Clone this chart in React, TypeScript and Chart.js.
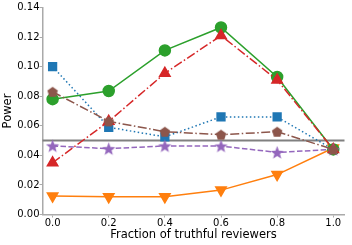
import React, { useEffect, useRef } from "react";
import { Chart, registerables } from "chart.js";

Chart.register(...registerables);

const fractions = [0.0, 0.2, 0.4, 0.6, 0.8, 1.0];
const blueSquares = [0.1, 0.059, 0.0525, 0.066, 0.066, 0.044];
const orangeDown = [0.0125, 0.012, 0.012, 0.0165, 0.027, 0.045];
const greenCircles = [0.078, 0.0835, 0.111, 0.1265, 0.093, 0.044];
const redTriangles = [0.035, 0.063, 0.0955, 0.121, 0.091, 0.044];
const purpleStars = [0.0464, 0.0445, 0.0464, 0.0463, 0.042, 0.044];
const brownPentagons = [0.083, 0.063, 0.056, 0.054, 0.056, 0.044];
const threshold = 0.05;
const yTicks = [0, 0.02, 0.04, 0.06, 0.08, 0.1, 0.12, 0.14];
const xTicks = [0, 0.2, 0.4, 0.6, 0.8, 1.0];

function makeShape(kind: "star" | "pentagon", color: string, size: number) {
  const c = document.createElement("canvas");
  c.width = size;
  c.height = size;
  const ctx = c.getContext("2d")!;
  const cx = size / 2, cy = size / 2;
  const R = size / 2 - 0.5;
  ctx.beginPath();
  if (kind === "star") {
    const r = R * 0.42;
    for (let i = 0; i < 10; i++) {
      const a = -Math.PI / 2 + (i * Math.PI) / 5;
      const rr = i % 2 === 0 ? R : r;
      const px = cx + rr * Math.cos(a), py = cy + rr * Math.sin(a) + R * 0.08;
      if (i === 0) ctx.moveTo(px, py); else ctx.lineTo(px, py);
    }
  } else {
    for (let i = 0; i < 5; i++) {
      const a = -Math.PI / 2 + (i * 2 * Math.PI) / 5;
      const px = cx + R * Math.cos(a), py = cy + R * Math.sin(a) + R * 0.1;
      if (i === 0) ctx.moveTo(px, py); else ctx.lineTo(px, py);
    }
  }
  ctx.closePath();
  ctx.fillStyle = color;
  ctx.fill();
  return c;
}

const toXY = (vals: number[]) => vals.map((v, i) => ({ x: fractions[i], y: v }));

export default function App() {
  const ref = useRef<HTMLCanvasElement>(null);
  useEffect(() => {
    document.body.style.margin = "0";
    const star = makeShape("star", "#9467bd", 15);
    const pent = makeShape("pentagon", "#8c564b", 12);
    const thresholdPlugin = {
      id: "threshold",
      beforeDatasetsDraw(chart: any) {
        const { ctx, chartArea, scales } = chart;
        const y = scales.y.getPixelForValue(threshold);
        ctx.save();
        ctx.strokeStyle = "#808080";
        ctx.lineWidth = 2;
        ctx.beginPath();
        ctx.moveTo(chartArea.left, y);
        ctx.lineTo(chartArea.right, y);
        ctx.stroke();
        ctx.restore();
      },
    };
    const font = { family: "DejaVu Sans", size: 10 };
    const titleFont = { family: "DejaVu Sans", size: 11.5 };
    const base = { borderWidth: 1.5, pointRadius: 5, pointHoverRadius: 5, fill: false, tension: 0 };
    const chart = new Chart(ref.current!, {
      type: "line",
      data: {
        datasets: [
          { ...base, data: toXY(blueSquares), borderColor: "#1f77b4", backgroundColor: "#1f77b4", pointStyle: "rect", pointRadius: 5.5, borderDash: [1.5, 2.5], order: 5 },
          { ...base, data: toXY(orangeDown), borderColor: "#ff7f0e", backgroundColor: "#ff7f0e", pointStyle: "triangle", pointRotation: 180, pointRadius: 6, order: 4 },
          { ...base, data: toXY(greenCircles), borderColor: "#2ca02c", backgroundColor: "#2ca02c", pointStyle: "circle", pointRadius: 5.5, order: 3 },
          { ...base, data: toXY(redTriangles), borderColor: "#d62728", backgroundColor: "#d62728", pointStyle: "triangle", pointRadius: 6, borderDash: [9, 2.5, 1.5, 2.5], order: 2 },
          { ...base, data: toXY(purpleStars), borderColor: "#9467bd", backgroundColor: "#9467bd", pointStyle: star as any, borderDash: [5.5, 2.4], order: 1 },
          { ...base, data: toXY(brownPentagons), borderColor: "#8c564b", backgroundColor: "#8c564b", pointStyle: pent as any, borderDash: [9, 2.5, 1.5, 2.5], order: 0 },
        ],
      },
      options: {
        animation: false,
        responsive: false,
        layout: { padding: { top: 7, right: 6, left: 0, bottom: 0 } },
        plugins: { legend: { display: false }, tooltip: { enabled: false } },
        scales: {
          x: {
            type: "linear",
            min: -0.036,
            max: 1.04,
            afterBuildTicks: (s: any) => { s.ticks = xTicks.map((v) => ({ value: v })); },
            afterFit: (s: any) => { s.height = 30.5; },
            ticks: { font, color: "#000", padding: 0, callback: (v: any) => Number(v).toFixed(1), maxRotation: 0 },
            grid: { display: true, drawOnChartArea: false, drawTicks: true, tickLength: 3, color: "#aaa" },
            border: { color: "#aaa", width: 1.5 },
            title: { display: true, text: "Fraction of truthful reviewers", font: titleFont, color: "#000", padding: { top: 0, bottom: 3 } },
          },
          y: {
            min: 0,
            max: 0.14,
            afterBuildTicks: (s: any) => { s.ticks = yTicks.map((v) => ({ value: v })); },
            afterFit: (s: any) => { s.width = 42.5; },
            ticks: { font, color: "#000", padding: 0, callback: (v: any) => Number(v).toFixed(2) },
            grid: { display: true, drawOnChartArea: false, drawTicks: true, tickLength: 3, color: "#aaa" },
            border: { color: "#aaa", width: 1.5 },
            title: { display: true, text: "Power", font: titleFont, color: "#000", padding: { top: 1, bottom: 0 } },
          },
        },
      },
      plugins: [thresholdPlugin],
    } as any);
    return () => chart.destroy();
  }, []);
  return (
    <div style={{ width: 352, height: 245 }}>
      <canvas ref={ref} width={352} height={245} style={{ width: 352, height: 245, display: "block" }} />
    </div>
  );
}
